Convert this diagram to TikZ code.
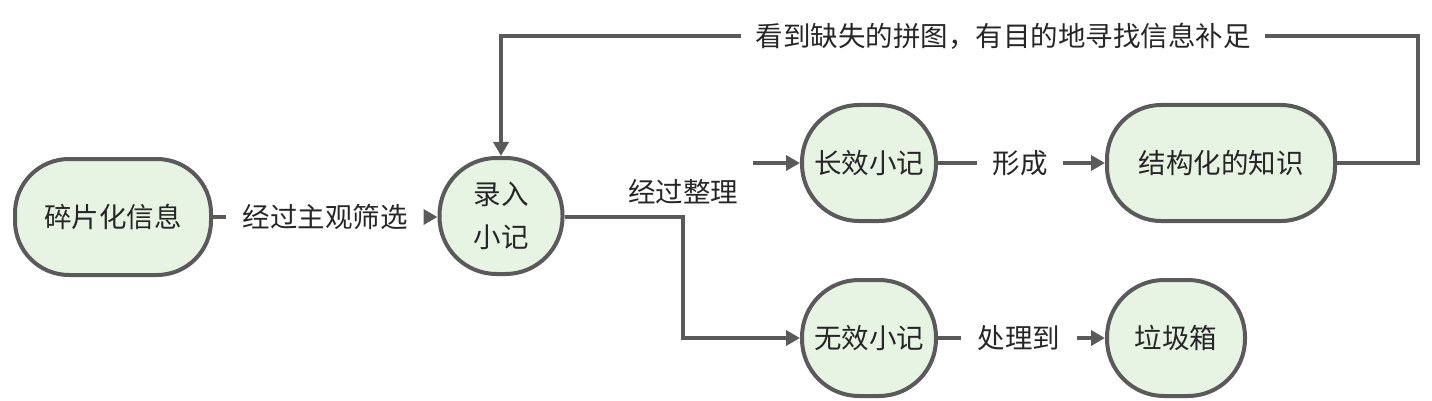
\documentclass[tikz,border=0pt]{standalone}
\usepackage{fontspec}
\newfontfamily\cjk{Noto Sans CJK SC}
\usetikzlibrary{arrows.meta}
\definecolor{edgegray}{HTML}{5A5A5A}
\definecolor{nodefill}{HTML}{E7F4E3}
\definecolor{txt}{HTML}{262626}
\begin{document}
\begin{tikzpicture}[x=1pt,y=-1pt,
  every node/.style={font=\cjk\fontsize{27.5}{43}\selectfont, text=txt},
  box/.style={rectangle, draw=edgegray, line width=4pt, fill=nodefill, inner sep=0pt},
  lbl/.style={inner xsep=16pt, inner ysep=2pt},
  conn/.style={draw=edgegray, line width=4pt},
  arr/.style={conn, -{Triangle[length=14pt,width=15pt]}}]
\useasboundingbox (0,0) rectangle (1432,401);
% nodes
\node[box, minimum width=196pt, minimum height=116pt, rounded corners=54pt] (A) at (113,217) {碎片化信息};
\node[box, minimum width=123pt, minimum height=116pt, rounded corners=57pt, align=center] (B) at (501,216) {录入\\小记};
\node[box, minimum width=134pt, minimum height=116pt, rounded corners=57pt] (C) at (869,163) {长效小记};
\node[box, minimum width=228pt, minimum height=116pt, rounded corners=54pt] (D) at (1221,163) {结构化的知识};
\node[box, minimum width=134pt, minimum height=116pt, rounded corners=57pt] (E) at (869,338) {无效小记};
\node[box, minimum width=138pt, minimum height=116pt, rounded corners=57pt] (F) at (1176,338) {垃圾箱};
% labels
\node[lbl] (l1) at (325,217) {经过主观筛选};
\node[lbl] (l2) at (683,192) {经过整理};
\node[lbl, inner xsep=15pt] (l3) at (1020,163) {形成};
\node[lbl, inner xsep=17pt] (l4) at (1019,338) {处理到};
\node[lbl, inner xsep=14pt] (l5) at (1003,36) {看到缺失的拼图，有目的地寻找信息补足};
% coordinates
\coordinate (bend) at (683,217);
\coordinate (c1) at (753,163);
\coordinate (loopr) at (1418,163);
% connectors
\draw[conn] (A) -- (l1);
\draw[arr] (l1) -- (A.east -| B.west);
\draw[arr] (B.east |- bend) -- (bend) |- (E.west);
\draw[arr] (c1) -- (C);
\draw[conn] (C) -- (l3);
\draw[arr] (l3) -- (D);
\draw[conn] (E) -- (l4);
\draw[arr] (l4) -- (F);
\draw[conn] (D.east) -- (loopr) |- (l5.east);
\draw[arr] (l5.west) -| (B.north);
\end{tikzpicture}
\end{document}
